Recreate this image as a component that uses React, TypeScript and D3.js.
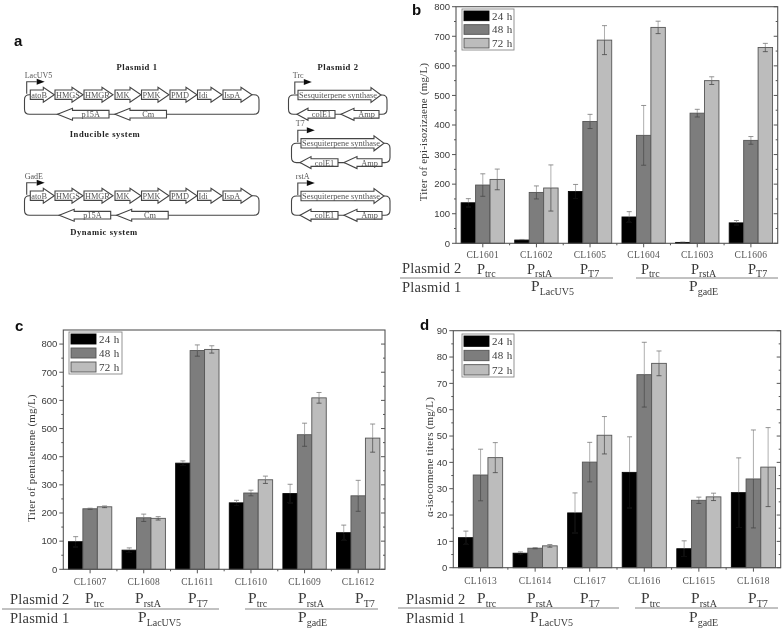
import React from "react";
import * as d3 from "d3";

const seriesNames = ["24 h", "48 h", "72 h"];
const seriesFill = ["#050505", "#7d7d7d", "#bcbcbc"];

const strainsB = ["CL1601", "CL1602", "CL1605", "CL1604", "CL1603", "CL1606"];
const valuesB = [[137, 197, 216], [11, 172, 187], [175, 412, 687], [89, 365, 730], [3, 440, 550], [69, 348, 662]];
const errorsB = [[14, 38, 35], [2, 22, 78], [24, 24, 49], [18, 101, 21], [1, 13, 13], [8, 13, 14]];

const strainsC = ["CL1607", "CL1608", "CL1611", "CL1610", "CL1609", "CL1612"];
const valuesC = [[98, 215, 222], [68, 183, 181], [377, 777, 781], [236, 271, 318], [269, 478, 609], [130, 261, 466]];
const errorsC = [[18, 2, 3], [8, 13, 6], [8, 20, 13], [9, 10, 13], [33, 41, 19], [27, 55, 50]];

const strainsD = ["CL1613", "CL1614", "CL1617", "CL1616", "CL1615", "CL1618"];
const valuesD = [[11.4, 35.2, 41.8], [5.5, 7.4, 8.3], [20.8, 40.1, 50.3], [36.2, 73.3, 77.6], [7.2, 25.6, 26.9], [28.5, 33.7, 38.2]];
const errorsD = [[2.5, 9.8, 5.7], [0.5, 0.2, 0.5], [7.6, 7.5, 7.1], [13.5, 12.3, 4.7], [3, 1.2, 1.4], [13.2, 18.6, 15]];

const plasmid2Subs = ["trc", "rstA", "T7", "trc", "rstA", "T7"];
const plasmid1Subs = ["LacUV5", "gadE"];

const genes = ["atoB", "HMGS", "HMGR", "MK", "PMK", "PMD", "Idi", "IspA"];
const geneEdges = [[30.3, 54.3], [55, 83], [84, 113], [115, 141], [141.5, 169], [170, 197], [197.5, 222], [223, 252]];

const SERIF = "'Liberation Serif', serif";
const SANS = "'Liberation Sans', Arial, sans-serif";
const INK = "#3a3a3a";
const FRAME = "#555";

type PanelProps = {
  letter: string; letterX: number; letterY: number;
  left: number; right: number; top: number; bottom: number;
  yMax: number; major: number; tickTop: number;
  strains: string[]; values: number[][]; errors: number[][];
  title: string; titleX: number; titleY: number;
  legend: [number, number, number, number];
  clY: number;
  labelX: number; p2Y: number; p1Y: number; ruleY: number;
  promoterY: number; promoterSize: number;
  p2X: number[]; p1X: number[];
  rules: [number, number][];
};

function Promoter({ x, y, sub, size, subSize = 10 }: { x: number; y: number; sub: string; size: number; subSize?: number }) {
  return (
    <text x={x} y={y} fontFamily={SERIF} fontSize={size} fill={INK}>
      P<tspan dy={3.5} fontSize={subSize}>{sub}</tspan>
    </text>
  );
}

function Panel(p: PanelProps) {
  const x0 = d3.scaleBand<string>().domain(p.strains).range([p.left, p.right]);
  const x1 = d3.scaleBand<number>().domain([0, 1, 2]).range([0, x0.bandwidth()]).paddingOuter(0.355).paddingInner(0);
  const y = d3.scaleLinear().domain([0, p.yMax]).range([p.bottom, p.top]);
  const majors = d3.range(0, p.tickTop + p.major / 2, p.major);
  const minors = d3.range(p.major / 2, p.yMax, p.major);
  const [lx0, ly0, lx1, ly1] = p.legend;
  const rowH = (ly1 - ly0) / 3;
  return (
    <g>
      <text x={p.letterX} y={p.letterY} fontFamily={SANS} fontWeight="bold" fontSize={15} fill="#111">{p.letter}</text>
      {p.strains.map((s, i) =>
        seriesNames.map((_, j) => {
          const bx = x0(s)! + x1(j)!;
          const w = x1.bandwidth();
          const v = p.values[i][j];
          const e = p.errors[i][j];
          const cx = bx + w / 2;
          const lower = j === 0 ? "#151515" : "#484848";
          return (
            <g key={s + j}>
              <rect x={bx} y={y(v)} width={w} height={p.bottom - y(v)} fill={seriesFill[j]} stroke={j === 0 ? "#050505" : "#555"} strokeWidth={0.9} />
              <line x1={cx} x2={cx} y1={y(v + e)} y2={y(v)} stroke="#8c8c8c" strokeWidth={0.7} />
              <line x1={cx} x2={cx} y1={y(v)} y2={y(v - e)} stroke={lower} strokeWidth={0.7} />
              <line x1={cx - 2.5} x2={cx + 2.5} y1={y(v + e)} y2={y(v + e)} stroke="#777" strokeWidth={0.8} />
              <line x1={cx - 2.5} x2={cx + 2.5} y1={y(v - e)} y2={y(v - e)} stroke={lower} strokeWidth={0.8} />
            </g>
          );
        })
      )}
      <rect x={p.left} y={p.top} width={p.right - p.left} height={p.bottom - p.top} fill="none" stroke={FRAME} strokeWidth={1.1} />
      {majors.map((t) => (
        <g key={t}>
          <line x1={p.left - 4} x2={p.left} y1={y(t)} y2={y(t)} stroke={FRAME} />
          <line x1={p.right - 4} x2={p.right} y1={y(t)} y2={y(t)} stroke={FRAME} />
          <text x={p.left - 6} y={y(t)} dy="0.35em" textAnchor="end" fontFamily={SANS} fontSize={9.5} fill={INK}>{t}</text>
        </g>
      ))}
      {minors.map((t) => (
        <g key={t}>
          <line x1={p.left - 2} x2={p.left} y1={y(t)} y2={y(t)} stroke={FRAME} />
          <line x1={p.right - 2} x2={p.right} y1={y(t)} y2={y(t)} stroke={FRAME} />
        </g>
      ))}
      {p.strains.map((s, i) => {
        const c = x0(s)! + x0.bandwidth() / 2;
        const edge = x0(s)! + x0.bandwidth();
        return (
          <g key={s}>
            <line x1={c} x2={c} y1={p.bottom} y2={p.bottom + 4} stroke={FRAME} />
            {i < 5 && <line x1={edge} x2={edge} y1={p.bottom} y2={p.bottom + 2} stroke={FRAME} />}
            <text x={c} y={p.clY} dy="0.35em" textAnchor="middle" fontFamily={SERIF} fontSize={9.5} letterSpacing={0.25} fill="#555">{s}</text>
          </g>
        );
      })}
      <text transform={`translate(${p.titleX},${p.titleY}) rotate(-90)`} textAnchor="middle" dy="0.35em" fontFamily={SERIF} fontSize={11} letterSpacing={0.2} fill={INK}>{p.title}</text>
      <rect x={lx0} y={ly0} width={lx1 - lx0} height={ly1 - ly0} fill="#fff" stroke="#888" strokeWidth={0.9} />
      {seriesNames.map((n, j) => (
        <g key={n}>
          <rect x={lx0 + 2} y={ly0 + 2 + j * rowH} width={25} height={rowH - 4} fill={seriesFill[j]} stroke={j === 0 ? "#050505" : "#555"} strokeWidth={0.9} />
          <text x={lx0 + 30} y={ly0 + (j + 0.5) * rowH} dy="0.35em" fontFamily={SERIF} fontSize={11} letterSpacing={0.3} fill={INK}>{n}</text>
        </g>
      ))}
      <text x={p.labelX} y={p.p2Y} fontFamily={SERIF} fontSize={14.5} letterSpacing={0.2} fill={INK}>Plasmid 2</text>
      <text x={p.labelX} y={p.p1Y} fontFamily={SERIF} fontSize={14.5} letterSpacing={0.2} fill={INK}>Plasmid 1</text>
      {plasmid2Subs.map((s, i) => <Promoter key={i} x={p.p2X[i]} y={p.promoterY} size={p.promoterSize} sub={s} />)}
      {plasmid1Subs.map((s, i) => <Promoter key={s} x={p.p1X[i]} y={p.p1Y - 1} size={15.5} sub={s} />)}
      {p.rules.map(([a, b]) => <line key={a} x1={a} x2={b} y1={p.ruleY} y2={p.ruleY} stroke="#777" strokeWidth={0.9} />)}
    </g>
  );
}

const GENE_LINE = "#444";

function RightArrow({ a, b, cy, label, head = 11, bh = 4.7, hh = 7.5, size = 8.3 }: { a: number; b: number; cy: number; label: string; head?: number; bh?: number; hh?: number; size?: number }) {
  const n = b - head;
  const d = `M${a},${cy - bh}L${n},${cy - bh}L${n},${cy - hh}L${b},${cy}L${n},${cy + hh}L${n},${cy + bh}L${a},${cy + bh}Z`;
  return (
    <g>
      <path d={d} fill="#fff" stroke={GENE_LINE} strokeWidth={1.1} />
      <text x={a + 1} y={cy} dy="0.35em" fontFamily={SERIF} fontSize={size} fill="#555">{label}</text>
    </g>
  );
}

function LeftArrow({ tip, end, cy, label, head = 15 }: { tip: number; end: number; cy: number; label: string; head?: number }) {
  const n = tip + head;
  const d = `M${end},${cy - 3.8}L${n},${cy - 3.8}L${n},${cy - 6}L${tip},${cy}L${n},${cy + 6}L${n},${cy + 3.8}L${end},${cy + 3.8}Z`;
  return (
    <g>
      <path d={d} fill="#fff" stroke={GENE_LINE} strokeWidth={1.1} />
      <text x={(n + end) / 2} y={cy} dy="0.35em" textAnchor="middle" fontFamily={SERIF} fontSize={8.3} fill="#555">{label}</text>
    </g>
  );
}

function Promo({ x, y, len, name }: { x: number; y: number; len: number; name: string }) {
  return (
    <g>
      <path d={`M${x},${y}V${y - 12}H${x + len}`} fill="none" stroke={GENE_LINE} strokeWidth={1.1} />
      <path d={`M${x + len},${y - 15}L${x + len + 8},${y - 12}L${x + len},${y - 9}Z`} fill="#111" />
      <text x={x - 2} y={y - 16} fontFamily={SERIF} fontSize={8} fill="#555">{name}</text>
    </g>
  );
}

function Backbone({ x0, x1, top, bottom, stubL, stubR }: { x0: number; x1: number; top: number; bottom: number; stubL: number; stubR: number }) {
  const r = 5;
  const d = `M${stubL},${top}H${x0 + r}Q${x0},${top} ${x0},${top + r}V${bottom - r}Q${x0},${bottom} ${x0 + r},${bottom}H${x1 - r}Q${x1},${bottom} ${x1},${bottom - r}V${top + r}Q${x1},${top} ${x1 - r},${top}H${stubR}`;
  return <path d={d} fill="none" stroke={GENE_LINE} strokeWidth={1.1} />;
}

function Plasmid1({ cy, promoter, dx }: { cy: number; promoter: string; dx: number }) {
  const bottom = cy + 19.5;
  return (
    <g>
      <Backbone x0={24.5} x1={259} top={cy} bottom={bottom} stubL={30} stubR={252} />
      <Promo x={26.7} y={cy - 1} len={10} name={promoter} />
      {genes.map((g, i) => <RightArrow key={g} a={geneEdges[i][0]} b={geneEdges[i][1]} cy={cy} label={g} />)}
      <LeftArrow tip={57.5 + dx} end={109 + dx} cy={bottom} label="p15A" />
      <LeftArrow tip={115 + dx} end={166.5 + dx} cy={bottom} label="Cm" />
    </g>
  );
}

function Plasmid2({ cy, promoter, dx }: { cy: number; promoter: string; dx: number }) {
  const bottom = cy + 19.3;
  return (
    <g>
      <Backbone x0={288.5 + dx} x1={387 + dx} top={cy} bottom={bottom} stubL={298 + dx} stubR={381 + dx} />
      <Promo x={294.8 + dx} y={cy - 1} len={9} name={promoter} />
      <RightArrow a={298 + dx} b={381 + dx} cy={cy} label="Sesquiterpene synthase" head={10} size={8.4} />
      <LeftArrow tip={297 + dx} end={335 + dx} cy={bottom} label="colE1" head={11} />
      <LeftArrow tip={341 + dx} end={379 + dx} cy={bottom} label="Amp" head={13} />
    </g>
  );
}

function BoldLabel({ x, y, children }: { x: number; y: number; children: string }) {
  return <text x={x} y={y} dy="0.35em" textAnchor="middle" fontFamily={SERIF} fontWeight="bold" fontSize={8.6} letterSpacing={0.55} fill="#222">{children}</text>;
}

export default function App() {
  return (
    <svg width={784} height={628} viewBox="0 0 784 628" style={{ position: "absolute", left: 0, top: 0, background: "#fff" }}>
      <defs>
        <filter id="soft" x="0" y="0" width="100%" height="100%" filterUnits="objectBoundingBox">
          <feGaussianBlur stdDeviation={0.4} />
        </filter>
      </defs>
      <g filter="url(#soft)">
        <rect x={0} y={0} width={784} height={628} fill="#fff" />
        <text x={14} y={46} fontFamily={SANS} fontWeight="bold" fontSize={15} fill="#111">a</text>
        <BoldLabel x={137} y={67}>Plasmid 1</BoldLabel>
        <BoldLabel x={338} y={67}>Plasmid 2</BoldLabel>
        <BoldLabel x={105} y={134}>Inducible system</BoldLabel>
        <BoldLabel x={104} y={232}>Dynamic system</BoldLabel>
        <Plasmid1 cy={94.7} promoter="LacUV5" dx={0} />
        <Plasmid1 cy={195.7} promoter="GadE" dx={1.7} />
        <Plasmid2 cy={95} promoter="Trc" dx={0} />
        <Plasmid2 cy={143.3} promoter="T7" dx={3} />
        <Plasmid2 cy={196} promoter="rstA" dx={3} />

        <Panel letter="b" letterX={412} letterY={15} left={456} right={777.7} top={6.7} bottom={243.3} yMax={800} major={100} tickTop={800}
          strains={strainsB} values={valuesB} errors={errorsB} title="Titer of epi-isozizaene (mg/L)" titleX={423.5} titleY={132}
          legend={[462, 9, 514, 50]} clY={254.5} labelX={402} p2Y={273} p1Y={292} ruleY={278} promoterY={273.5} promoterSize={14.5}
          p2X={[477, 527, 580, 641, 691, 748]} p1X={[531, 689]} rules={[[400, 613], [636, 778]]} />
        <Panel letter="c" letterX={15} letterY={331} left={63.3} right={385} top={330} bottom={569.3} yMax={850} major={100} tickTop={800}
          strains={strainsC} values={valuesC} errors={errorsC} title="Titer of pentalenene (mg/L)" titleX={31} titleY={458}
          legend={[69, 332, 122, 374]} clY={582} labelX={10} p2Y={604} p1Y={623} ruleY={609} promoterY={603} promoterSize={15.5}
          p2X={[85, 135, 188, 248, 298, 355]} p1X={[138, 298]} rules={[[2, 219], [245, 378]]} />
        <Panel letter="d" letterX={420} letterY={330} left={453.3} right={780.7} top={330.7} bottom={567.7} yMax={90} major={10} tickTop={90}
          strains={strainsD} values={valuesD} errors={errorsD} title="α-isocomene titers (mg/L)" titleX={429} titleY={457}
          legend={[462, 334, 514, 377]} clY={581} labelX={406} p2Y={604} p1Y={623} ruleY={608} promoterY={603} promoterSize={15.5}
          p2X={[477, 527, 580, 641, 691, 748]} p1X={[530, 689]} rules={[[398, 619], [635, 778]]} />
      </g>
    </svg>
  );
}
